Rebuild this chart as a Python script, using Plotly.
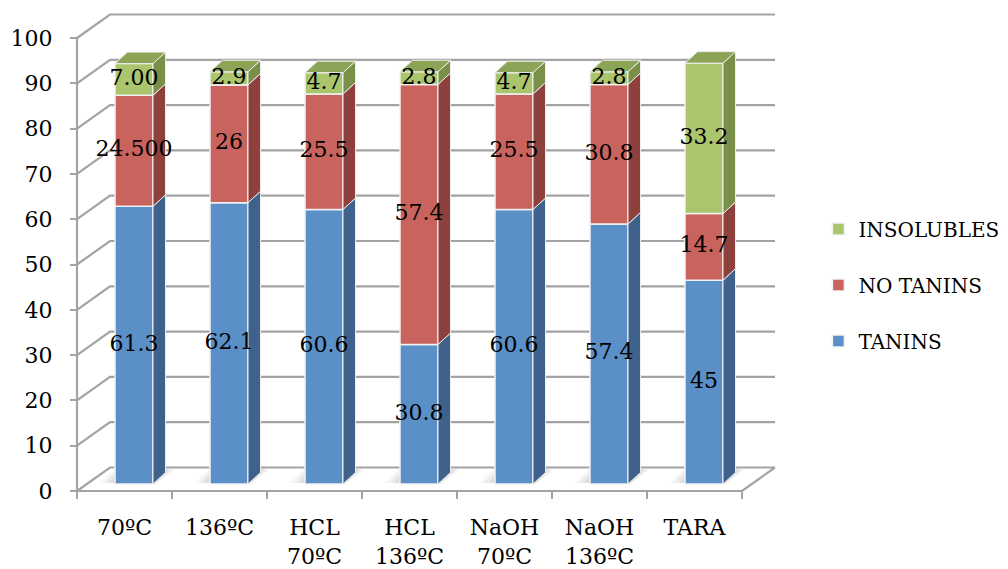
import plotly.graph_objects as go

# ---- data -------------------------------------------------------------
categories = ["70ºC", "136ºC", "HCL<br>70ºC", "HCL<br>136ºC",
              "NaOH<br>70ºC", "NaOH<br>136ºC", "TARA"]
tanins = [61.3, 62.1, 60.6, 30.8, 60.6, 57.4, 45]
no_tanins = [24.5, 26, 25.5, 57.4, 25.5, 30.8, 14.7]
insolubles = [7.00, 2.9, 4.7, 2.8, 4.7, 2.8, 33.2]
tanins_labels = ["61.3", "62.1", "60.6", "30.8", "60.6", "57.4", "45"]
no_tanins_labels = ["24.500", "26", "25.5", "57.4", "25.5", "30.8", "14.7"]
insolubles_labels = ["7.00", "2.9", "4.7", "2.8", "4.7", "2.8", "33.2"]
y_ticks = [0, 10, 20, 30, 40, 50, 60, 70, 80, 90, 100]

series = [
    ("TANINS", tanins, tanins_labels, "#5B8FC8", "#3F628D"),
    ("NO TANINS", no_tanins, no_tanins_labels, "#C9635D", "#8D403C"),
    ("INSOLUBLES", insolubles, insolubles_labels, "#AAC56C", "#7A8F48"),
]
TOP_COLOR = "#8BA456"

# ---- pseudo-3D geometry (axis units) ---------------------------------
PX_CAT = 95.0     # pixels per category
PX_UNIT = 4.53    # pixels per value unit
WALL_DX = 33 / PX_CAT
WALL_DY = 23.5 / PX_UNIT
BAR_SHIFT = 9.5 / PX_CAT
BAR_LIFT = 7 / PX_UNIT
BAR_W = 0.4
BAR_DX = 12.5 / PX_CAT
BAR_DY = 11.5 / PX_UNIT

W, H = 1008, 569
ML, MB = 60, 69
plot_w, plot_h = W - ML, H - MB
x0 = -0.5 - (77 - ML) / PX_CAT
x_range = [x0, x0 + plot_w / PX_CAT]
y_bottom = -(plot_h - 491) / PX_UNIT
y_range = [y_bottom, y_bottom + plot_h / PX_UNIT]

n = len(categories)
x_left, x_right = -0.5, n - 0.5
GRID = "#A3A3A3"
FONT = "DejaVu Serif"

fig = go.Figure()
shapes = []

# walls: gridlines on the side wall and the back wall
for v in y_ticks:
    shapes.append(dict(
        type="path", layer="below",
        path=f"M {x_left} {v} L {x_left + WALL_DX} {v + WALL_DY} L {x_right + WALL_DX} {v + WALL_DY}",
        line=dict(color=GRID, width=2.2)))

# floor edges and front vertical axis
shapes.append(dict(type="path", layer="below",
                   path=f"M {x_left} 0 L {x_right} 0 L {x_right + WALL_DX} {WALL_DY}",
                   line=dict(color=GRID, width=2.2)))
shapes.append(dict(type="line", layer="below", x0=x_left, x1=x_left, y0=0, y1=y_ticks[-1],
                   line=dict(color=GRID, width=2.2)))

# soft floor shadows beside each bar
for i in range(n):
    bl = i + BAR_SHIFT - BAR_W / 2
    br = i + BAR_SHIFT + BAR_W / 2
    b = BAR_LIFT
    for k, op in enumerate([0.05, 0.06, 0.08]):
        grow = 0.16 - 0.05 * k
        path = (f"M {bl - grow} {b + 0.3} L {br + 0.02} {b} "
                f"L {br + BAR_DX + grow * 0.6} {b + BAR_DY + 0.6} "
                f"L {bl - grow * 0.4 + BAR_DX} {b + BAR_DY + 2.2} Z")
        shapes.append(dict(type="path", layer="below", path=path,
                           fillcolor=f"rgba(60,60,60,{op})", line=dict(width=0)))

# ---- bars -------------------------------------------------------------
cum = [0.0] * n
label_x, label_y, label_t = [], [], []
for rank, (name, vals, labels, front, side) in enumerate(series):
    bases = [BAR_LIFT + c for c in cum]
    fig.add_trace(go.Bar(
        x=list(range(n)), y=vals, base=bases, name=name,
        width=BAR_W, offset=BAR_SHIFT - BAR_W / 2,
        marker=dict(color=front, line=dict(color="#F2F2F2", width=1.5)),
        legendgroup=name, legendrank=len(series) - rank, hoverinfo="skip"))
    # right-hand side faces
    sx, sy = [], []
    for i, v in enumerate(vals):
        xr = i + BAR_SHIFT + BAR_W / 2
        b0, b1 = bases[i], bases[i] + v
        sx += [xr, xr + BAR_DX, xr + BAR_DX, xr, xr, None]
        sy += [b0, b0 + BAR_DY, b1 + BAR_DY, b1, b0, None]
    fig.add_trace(go.Scatter(x=sx, y=sy, mode="lines", fill="toself",
                             fillcolor=side, line=dict(color="#EDEDED", width=1),
                             showlegend=False, hoverinfo="skip"))
    for i, v in enumerate(vals):
        label_x.append(i + BAR_SHIFT)
        label_y.append(bases[i] + v / 2)
        label_t.append(labels[i])
    cum = [c + v for c, v in zip(cum, vals)]

# top faces of the stacks
tx, ty = [], []
for i in range(n):
    xl = i + BAR_SHIFT - BAR_W / 2
    xr = i + BAR_SHIFT + BAR_W / 2
    t = BAR_LIFT + cum[i]
    tx += [xl, xr, xr + BAR_DX, xl + BAR_DX, xl, None]
    ty += [t, t, t + BAR_DY, t + BAR_DY, t, None]
fig.add_trace(go.Scatter(x=tx, y=ty, mode="lines", fill="toself",
                         fillcolor=TOP_COLOR, line=dict(color="#EDEDED", width=1),
                         showlegend=False, hoverinfo="skip"))

# value labels
fig.add_trace(go.Scatter(x=label_x, y=label_y, text=label_t, mode="text",
                         textfont=dict(family=FONT, size=22, color="#000000"),
                         textposition="middle center", cliponaxis=False,
                         showlegend=False, hoverinfo="skip"))

fig.update_layout(
    width=W, height=H,
    margin=dict(l=ML, r=0, t=0, b=MB),
    paper_bgcolor="white", plot_bgcolor="white",
    barmode="overlay",
    font=dict(family=FONT, size=22, color="#000000"),
    shapes=shapes,
    showlegend=True,
    legend=dict(x=0.80, y=0.43, xanchor="left", yanchor="middle",
                traceorder="grouped", tracegroupgap=27,
                font=dict(family=FONT, size=20, color="#000000"),
                bgcolor="rgba(0,0,0,0)"),
    xaxis=dict(range=x_range, tickmode="array", tickvals=list(range(n)),
               ticktext=categories, ticks="", showgrid=False, zeroline=False,
               showline=False, anchor="free", position=(plot_h - 491) / plot_h,
               ticklabelstandoff=21,
               minor=dict(tickmode="array", tickvals=[k - 0.5 for k in range(n + 1)],
                          ticks="outside", ticklen=7, tickwidth=2, tickcolor=GRID),
               tickfont=dict(family=FONT, size=22)),
    yaxis=dict(range=y_range, tickmode="array", tickvals=y_ticks,
               ticks="outside", ticklen=7, tickwidth=2, tickcolor=GRID,
               showgrid=False, zeroline=False, showline=False,
               anchor="free", position=(77 - ML) / plot_w,
               ticklabelstandoff=13,
               tickfont=dict(family=FONT, size=22)),
)

fig.write_html("out.html")
